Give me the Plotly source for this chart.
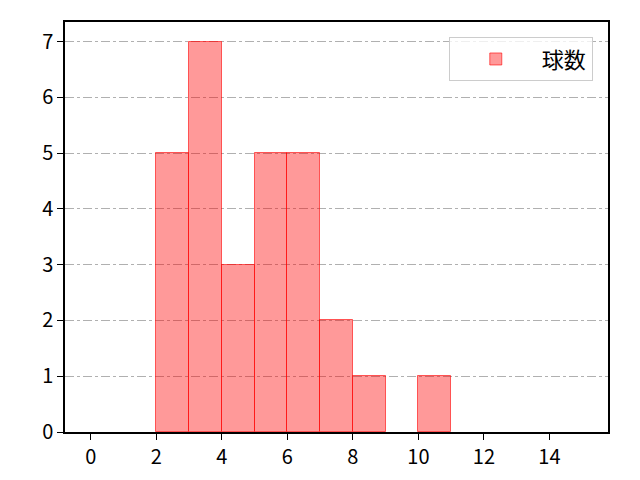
import plotly.graph_objects as go

# 球数のヒストグラム (ビン幅 1、9〜10 は 0 件)
bin_left = [2, 3, 4, 5, 6, 7, 8, 10]
counts = [5, 7, 3, 5, 5, 2, 1, 1]
x_ticks = [0, 2, 4, 6, 8, 10, 12, 14]
y_ticks = [0, 1, 2, 3, 4, 5, 6, 7]

font_name = "Noto Sans CJK JP"

fig = go.Figure()
fig.add_trace(go.Bar(
    x=[b + 0.5 for b in bin_left],
    y=counts,
    width=1,
    name="球数",
    marker=dict(color="rgba(255,0,0,0.4)",
                line=dict(color="rgba(255,0,0,0.6)", width=1)),
    showlegend=True,
))

# ページ本体の 8px 余白を考慮した余白
fig.update_layout(
    width=640, height=480,
    margin=dict(l=57, r=40, t=14, b=56),
    paper_bgcolor="white", plot_bgcolor="white",
    font=dict(family=font_name, size=20, color="black"),
    bargap=0,
    legend=dict(x=0.972, y=0.963, xanchor="right", yanchor="top",
                bordercolor="#cccccc", borderwidth=1,
                bgcolor="rgba(255,255,255,0.8)",
                itemwidth=82,
                font=dict(size=22)),
)
fig.update_xaxes(
    range=[-0.79, 15.79], tickvals=x_ticks,
    showgrid=False, zeroline=False,
    showline=True, linecolor="black", linewidth=1.5, mirror=True,
    ticks="outside", ticklen=6, tickcolor="black",
)
fig.update_yaxes(
    range=[0, 7.35], tickvals=y_ticks,
    showgrid=True, gridcolor="#b0b0b0", griddash="dashdot", gridwidth=0.8,
    zeroline=False,
    showline=True, linecolor="black", linewidth=1.5, mirror=True,
    ticks="outside", ticklen=6, tickcolor="black",
    layer="above traces",
)

fig.write_html("out.html")
